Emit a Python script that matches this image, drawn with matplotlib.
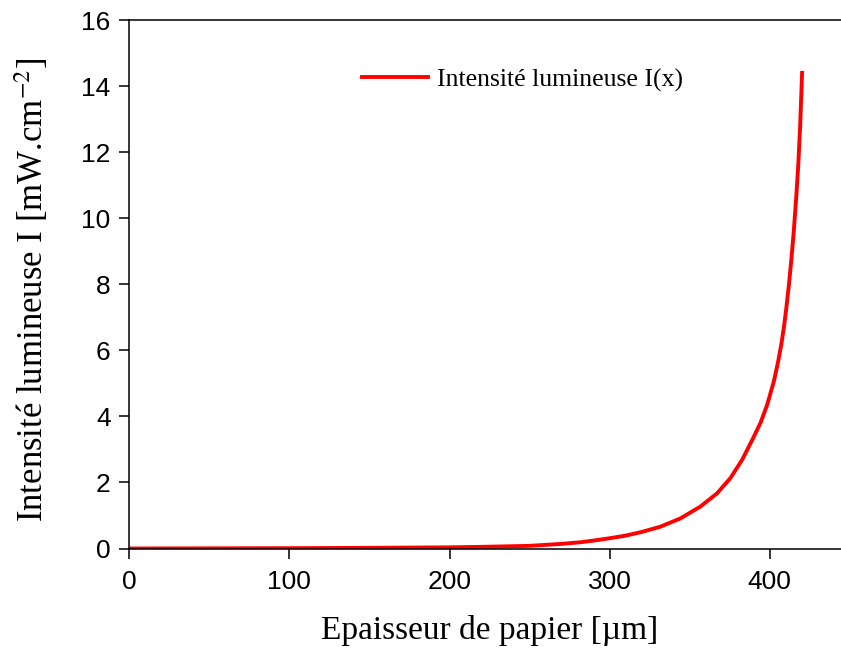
import numpy as np
import matplotlib
matplotlib.use('Agg')
import matplotlib.pyplot as plt

# values
epaisseur = [0, 50, 100, 150, 200, 220, 250, 270, 282, 290, 300, 310, 320,
             331.7, 344.2, 356.7, 367.1, 375.4, 382.7, 389, 394.2, 398.4,
             402.5, 405, 407.3, 409, 410.4, 412, 413.5, 415, 416.5, 417.8,
             419, 420.2]
intensite = [0.0, 0.005, 0.01, 0.02, 0.035, 0.05, 0.08, 0.14, 0.19, 0.24,
             0.31, 0.39, 0.50, 0.66, 0.91, 1.27, 1.67, 2.13, 2.68, 3.28, 3.80,
             4.35, 5.05, 5.60, 6.20, 6.75, 7.30, 8.00, 8.75, 9.60, 10.60,
             11.60, 12.80, 14.40]

xticks = [0, 100, 200, 300, 400]
yticks = [0, 2, 4, 6, 8, 10, 12, 14, 16]

plt.rcParams['mathtext.fontset'] = 'stix'

fig = plt.figure(figsize=(8.41, 6.55), dpi=100)
ax = fig.add_axes([129.3/841, 1-548.5/655, 1-129.3/841, (548.5-20)/655])

ax.plot(epaisseur, intensite, color='#ff0000', linewidth=2.8,
        solid_joinstyle='round', label='Intensité lumineuse I(x)')

ax.set_xlim(0, 444.5)
ax.set_ylim(0, 16)
ax.set_xticks(xticks)
ax.set_yticks(yticks)

for lab in ax.get_xticklabels() + ax.get_yticklabels():
    lab.set_family('Liberation Sans')
    lab.set_fontsize(19)
ax.tick_params(direction='out', length=7.5, width=1.1)
ax.tick_params(axis='x', pad=8)
ax.tick_params(axis='y', pad=6)
ax.spines['right'].set_visible(False)
for s in ['left', 'bottom', 'top']:
    ax.spines[s].set_linewidth(1.1)

ax.set_xlabel('Epaisseur de papier [µm]', family='Liberation Serif', fontsize=24)
ax.set_ylabel('Intensité lumineuse I [mW.cm$^{-2}$]', family='Liberation Serif',
              fontsize=25)
ax.xaxis.set_label_coords(0.506, -0.126)
ax.yaxis.set_label_coords(-0.11, 0.49)

leg = ax.legend(loc='center left', bbox_to_anchor=(362/841, 1-80/655),
                bbox_transform=fig.transFigure, frameon=False,
                borderpad=0, borderaxespad=0, handlelength=2.55,
                handletextpad=0.35, prop={'family': 'Liberation Serif', 'size': 18.5})
leg.get_lines()[0].set_linewidth(2.8)

fig.savefig('out.png', dpi=100)
